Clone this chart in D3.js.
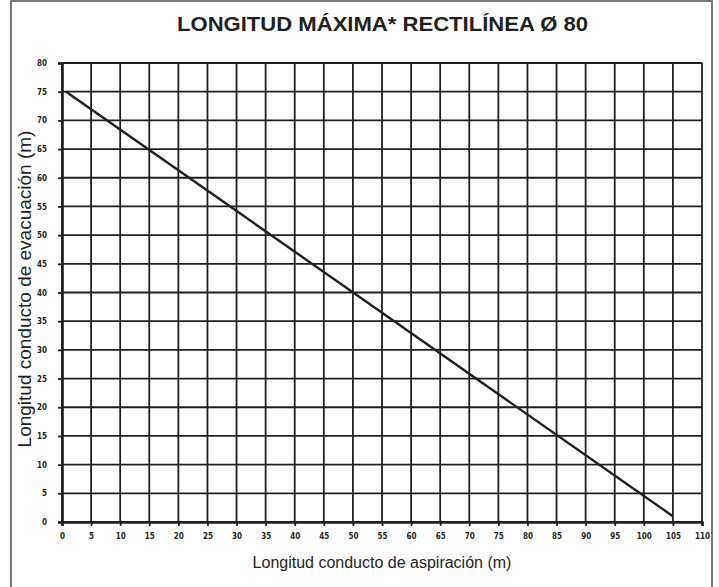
<!DOCTYPE html>
<html>
<head>
<meta charset="utf-8">
<script src="https://cdn.jsdelivr.net/npm/d3@7"></script>
<style>
  html, body { margin: 0; padding: 0; background: #fff; }
  svg { display: block; }
</style>
</head>
<body>
<svg id="chart" width="719" height="587"></svg>
<script>
// Maximum straight length: exhaust duct vs. intake duct (Ø 80)
const titleText = "LONGITUD MÁXIMA* RECTILÍNEA Ø 80";
const xLabel = "Longitud conducto de aspiración (m)";
const yLabel = "Longitud conducto de evacuación (m)";

const xTicks = [0, 5, 10, 15, 20, 25, 30, 35, 40, 45, 50, 55, 60, 65, 70, 75, 80, 85, 90, 95, 100, 105, 110];
const yTicks = [0, 5, 10, 15, 20, 25, 30, 35, 40, 45, 50, 55, 60, 65, 70, 75, 80];

// Limit line: intake length (m) vs exhaust length (m)
const intake = [0.7, 105];
const exhaust = [75, 1];

const svg = d3.select("#chart");
const ink = "#231f20";

const margin = { left: 62, right: 17, top: 63, bottom: 65 };
const W = 719, H = 587;

const x = d3.scaleLinear().domain([0, 110]).range([margin.left, W - margin.right]);
const y = d3.scaleLinear().domain([0, 80]).range([H - margin.bottom, margin.top]);

// outer frame
svg.append("rect")
  .attr("x", 11).attr("y", 1)
  .attr("width", 701).attr("height", 620)
  .attr("fill", "none")
  .attr("stroke", "#5a5a5a")
  .attr("stroke-width", 1.6);

// title
svg.append("text")
  .attr("x", 382.5).attr("y", 30.5)
  .attr("text-anchor", "middle")
  .attr("font-family", "Liberation Sans, Arial, sans-serif")
  .attr("font-weight", "bold")
  .attr("font-size", 20)
  .attr("fill", ink)
  .attr("textLength", 411)
  .attr("lengthAdjust", "spacingAndGlyphs")
  .text(titleText);

// grid
const grid = svg.append("g").attr("stroke", ink).attr("stroke-width", 1.8);
grid.selectAll("line.v").data(xTicks).join("line")
  .attr("class", "v")
  .attr("x1", d => x(d)).attr("x2", d => x(d))
  .attr("y1", y(80)).attr("y2", y(0));
grid.selectAll("line.h").data(yTicks).join("line")
  .attr("class", "h")
  .attr("x1", x(0)).attr("x2", x(110))
  .attr("y1", d => y(d)).attr("y2", d => y(d));

// axes
const tickFont = "DejaVu Sans Condensed, DejaVu Sans, sans-serif";

const xAxis = svg.append("g")
  .attr("transform", `translate(0,${y(0)})`)
  .call(d3.axisBottom(x).tickValues(xTicks).tickSize(4).tickPadding(7).tickFormat(d3.format("d")));
const yAxis = svg.append("g")
  .attr("transform", `translate(${x(0)},0)`)
  .call(d3.axisLeft(y).tickValues(yTicks).tickSize(4).tickPadding(11).tickFormat(d3.format("d")));

[xAxis, yAxis].forEach(g => {
  g.select(".domain").attr("stroke", ink).attr("stroke-width", 2.6);
  g.selectAll(".tick line").attr("stroke", ink).attr("stroke-width", 1.8);
  g.selectAll(".tick text")
    .attr("font-family", tickFont)
    .attr("font-weight", "bold")
    .attr("font-size", 8)
    .attr("fill", ink);
});

// limit line
svg.append("path")
  .datum(intake.map((v, i) => [v, exhaust[i]]))
  .attr("fill", "none")
  .attr("stroke", ink)
  .attr("stroke-width", 2.4)
  .attr("d", d3.line().x(d => x(d[0])).y(d => y(d[1])));

// axis titles
svg.append("text")
  .attr("x", x(55)).attr("y", 568)
  .attr("text-anchor", "middle")
  .attr("font-family", "Liberation Sans, Arial, sans-serif")
  .attr("font-size", 16)
  .attr("fill", ink)
  .text(xLabel);

svg.append("text")
  .attr("transform", `translate(30.5,289) rotate(-90)`)
  .attr("text-anchor", "middle")
  .attr("font-family", "Liberation Sans, Arial, sans-serif")
  .attr("font-size", 19)
  .attr("fill", ink)
  .text(yLabel);
</script>
</body>
</html>
